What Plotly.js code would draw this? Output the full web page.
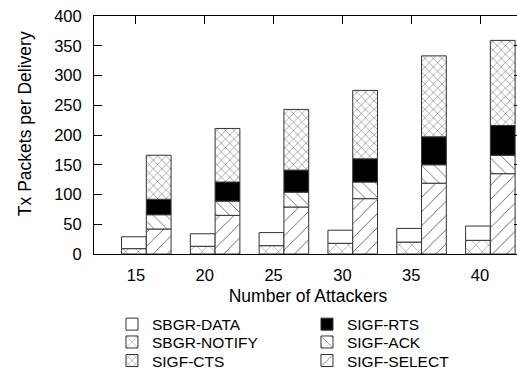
<!DOCTYPE html>
<html>
<head>
<meta charset="utf-8">
<script src="https://cdn.plot.ly/plotly-3.0.1.min.js"></script>
<style>
  html, body { margin: 0; padding: 0; overflow: hidden; background: #fff; }
  #chart { width: 530px; height: 380px; }
</style>
</head>
<body>
<div id="chart"></div>
<script>
// Number of attackers in each scenario (x axis)
const attackers = [15, 20, 25, 30, 35, 40];

// SBGR packets per delivery, stacked bottom to top
const sbgrNotify = [9, 13, 14, 18, 20, 23];
const sbgrData   = [20, 21, 22, 22, 23, 24];

// SIGF packets per delivery, stacked bottom to top
const sigfSelect = [42, 65, 79, 93, 119, 135];
const sigfAck    = [24, 24, 25, 28, 31, 31];
const sigfRts    = [26, 32, 37, 39, 47, 50];
const sigfCts    = [74, 90, 102, 115, 136, 143];

const FONT = 'Liberation Sans, Arial, Helvetica, sans-serif';
const BAR_W = 1.8;
const SBGR_OFFSET = -1.05;
const SIGF_OFFSET = 0.75;

// running base for each stack, built from the series themselves
function stackBases(series) {
  const bases = [];
  let acc = attackers.map(() => 0);
  series.forEach(s => {
    bases.push(acc.slice());
    acc = acc.map((v, i) => v + s[i]);
  });
  return bases;
}

const outline = { color: '#333', width: 1 };

// legend rows: row 1 = legend, row 2 = legend2, row 3 = legend3
const sbgrSeries = [
  { name: 'SBGR-NOTIFY', y: sbgrNotify, leg: 'legend2', rank: 1,
    pattern: { shape: 'x', size: 9, solidity: 0.08, fgcolor: '#444', bgcolor: '#fff' }, color: '#fff' },
  { name: 'SBGR-DATA', y: sbgrData, leg: 'legend', rank: 1, pattern: null, color: '#fff' }
];
const sigfSeries = [
  { name: 'SIGF-SELECT', y: sigfSelect, leg: 'legend3', rank: 2,
    pattern: { shape: '/', size: 10, solidity: 0.08, fgcolor: '#444', bgcolor: '#fff' }, color: '#fff' },
  { name: 'SIGF-ACK', y: sigfAck, leg: 'legend2', rank: 2,
    pattern: { shape: '\\', size: 9, solidity: 0.08, fgcolor: '#444', bgcolor: '#fff' }, color: '#fff' },
  { name: 'SIGF-RTS', y: sigfRts, leg: 'legend', rank: 2, pattern: null, color: '#000' },
  { name: 'SIGF-CTS', y: sigfCts, leg: 'legend3', rank: 1,
    pattern: { shape: 'x', size: 6, solidity: 0.14, fgcolor: '#444', bgcolor: '#fff' }, color: '#fff' }
];

function buildTraces(series, offset) {
  const bases = stackBases(series.map(s => s.y));
  return series.map((s, k) => {
    const marker = { color: s.color, line: outline };
    if (s.pattern) marker.pattern = s.pattern;
    return {
      type: 'bar',
      name: s.name,
      x: attackers,
      y: s.y,
      base: bases[k],
      width: BAR_W,
      offset: offset,
      marker: marker,
      legend: s.leg,
      legendrank: s.rank,
      hoverinfo: 'name+y'
    };
  });
}

const traces = buildTraces(sbgrSeries, SBGR_OFFSET).concat(buildTraces(sigfSeries, SIGF_OFFSET));

function legendRow(y) {
  return {
    orientation: 'h',
    x: 0.042, xanchor: 'left',
    y: y, yanchor: 'top',
    entrywidth: 150,
    traceorder: 'normal',
    font: { family: FONT, size: 15.5, color: '#000' },
    bgcolor: 'rgba(0,0,0,0)'
  };
}

const layout = {
  width: 530,
  height: 380,
  margin: { l: 94, r: 8, t: 16, b: 126, autoexpand: false },
  paper_bgcolor: '#fff',
  plot_bgcolor: '#fff',
  font: { family: FONT, size: 17, color: '#000' },
  barmode: 'overlay',
  showlegend: true,
  legend: legendRow(-0.225),
  legend2: legendRow(-0.300),
  legend3: legendRow(-0.378),
  xaxis: {
    range: [11.95, 43.05],
    tickvals: attackers,
    ticktext: attackers.map(String),
    ticks: 'inside',
    ticklen: 8,
    tickcolor: '#000',
    showline: true,
    linecolor: '#000',
    linewidth: 1,
    mirror: 'ticks',
    showgrid: false,
    zeroline: false,
    layer: 'below traces',
    ticklabelstandoff: 6,
    tickfont: { family: FONT, size: 16.5, color: '#000' },
    title: { text: 'Number of Attackers', font: { family: FONT, size: 17.5, color: '#000' }, standoff: 6 }
  },
  yaxis: {
    range: [0, 400],
    dtick: 50,
    ticks: 'inside',
    ticklen: 8,
    tickcolor: '#000',
    showline: true,
    linecolor: '#000',
    linewidth: 1,
    mirror: 'ticks',
    showgrid: false,
    zeroline: false,
    ticklabelstandoff: 8,
    tickfont: { family: FONT, size: 16.5, color: '#000' }
  },
  annotations: [{
    text: 'Tx Packets per Delivery',
    xref: 'paper', yref: 'paper',
    x: -0.161, y: 0.546,
    xanchor: 'center', yanchor: 'middle',
    textangle: -90,
    showarrow: false,
    font: { family: FONT, size: 17.5, color: '#000' }
  }]
};

Plotly.newPlot('chart', traces, layout, { displayModeBar: false, staticPlot: true });
</script>
</body>
</html>
